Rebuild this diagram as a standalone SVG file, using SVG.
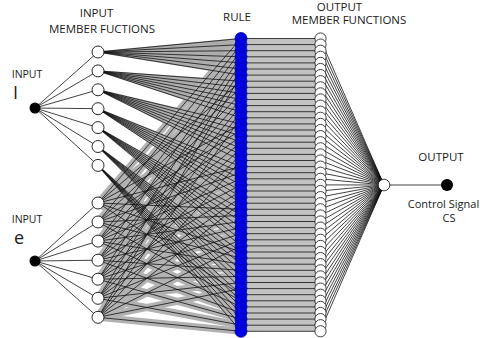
<svg xmlns="http://www.w3.org/2000/svg" width="483" height="338" viewBox="0 0 483 338">
<style>
text{font-family:"Open Sans","Liberation Sans",sans-serif;fill:#1a1a1a;text-anchor:middle}
.lbl{font-size:11.5px}
.sig{font-size:11px}
.small{font-size:10.5px}
.big{font-size:18px;text-anchor:start}
.thin{stroke:#111;stroke-width:0.8;fill:none}
.mf{fill:#fff;stroke:#111;stroke-width:0.9}
.rule{fill:#0000e6;stroke:#00009a;stroke-width:0.8}
.omf{fill:#fff;stroke:#111;stroke-width:0.8}
.inp{fill:#000}
</style>

<g id="connectors">
<g id="I-wedges" fill="#adadad" stroke="#adadad" stroke-width="1.5">
<polygon points="98,52 241,38.5 241,75.1"/>
<polygon points="98,70.9 241,81.2 241,117.8"/>
<polygon points="98,89.8 241,123.9 241,160.5"/>
<polygon points="98,108.7 241,166.6 241,203.2"/>
<polygon points="98,127.6 241,209.3 241,245.9"/>
<polygon points="98,146.5 241,252 241,288.6"/>
<polygon points="98,165.4 241,294.7 241,331.3"/>
</g>
<g id="e-under" fill="none" stroke="#b2b2b2" stroke-width="7" stroke-linecap="round">
<path d="M98 203L241 38.5M98 203L241 81.2M98 203L241 123.9M98 203L241 166.6M98 203L241 209.3M98 203L241 252M98 203L241 294.7"/>
<path d="M98 222L241 44.6M98 222L241 87.3M98 222L241 130M98 222L241 172.7M98 222L241 215.4M98 222L241 258.1M98 222L241 300.8"/>
<path d="M98 241.1L241 50.7M98 241.1L241 93.4M98 241.1L241 136.1M98 241.1L241 178.8M98 241.1L241 221.5M98 241.1L241 264.2M98 241.1L241 306.9"/>
<path d="M98 260.2L241 56.8M98 260.2L241 99.5M98 260.2L241 142.2M98 260.2L241 184.9M98 260.2L241 227.6M98 260.2L241 270.3M98 260.2L241 313"/>
<path d="M98 279.2L241 62.9M98 279.2L241 105.6M98 279.2L241 148.3M98 279.2L241 191M98 279.2L241 233.7M98 279.2L241 276.4M98 279.2L241 319.1"/>
<path d="M98 298.3L241 69M98 298.3L241 111.7M98 298.3L241 154.4M98 298.3L241 197.1M98 298.3L241 239.8M98 298.3L241 282.5M98 298.3L241 325.2"/>
<path d="M98 317.3L241 75.1M98 317.3L241 117.8M98 317.3L241 160.5M98 317.3L241 203.2M98 317.3L241 245.9M98 317.3L241 288.6M98 317.3L241 331.3"/>
</g>
<g id="fan-lines" fill="none" stroke="#111" stroke-width="0.8">
<path d="M98 52L241 38.5M98 52L241 44.6M98 52L241 50.7M98 52L241 56.8M98 52L241 62.9M98 52L241 69M98 52L241 75.1"/>
<path d="M98 70.9L241 81.2M98 70.9L241 87.3M98 70.9L241 93.4M98 70.9L241 99.5M98 70.9L241 105.6M98 70.9L241 111.7M98 70.9L241 117.8"/>
<path d="M98 89.8L241 123.9M98 89.8L241 130M98 89.8L241 136.1M98 89.8L241 142.2M98 89.8L241 148.3M98 89.8L241 154.4M98 89.8L241 160.5"/>
<path d="M98 108.7L241 166.6M98 108.7L241 172.7M98 108.7L241 178.8M98 108.7L241 184.9M98 108.7L241 191M98 108.7L241 197.1M98 108.7L241 203.2"/>
<path d="M98 127.6L241 209.3M98 127.6L241 215.4M98 127.6L241 221.5M98 127.6L241 227.6M98 127.6L241 233.7M98 127.6L241 239.8M98 127.6L241 245.9"/>
<path d="M98 146.5L241 252M98 146.5L241 258.1M98 146.5L241 264.2M98 146.5L241 270.3M98 146.5L241 276.4M98 146.5L241 282.5M98 146.5L241 288.6"/>
<path d="M98 165.4L241 294.7M98 165.4L241 300.8M98 165.4L241 306.9M98 165.4L241 313M98 165.4L241 319.1M98 165.4L241 325.2M98 165.4L241 331.3"/>
<path d="M98 203L241 38.5M98 203L241 81.2M98 203L241 123.9M98 203L241 166.6M98 203L241 209.3M98 203L241 252M98 203L241 294.7"/>
<path d="M98 222L241 44.6M98 222L241 87.3M98 222L241 130M98 222L241 172.7M98 222L241 215.4M98 222L241 258.1M98 222L241 300.8"/>
<path d="M98 241.1L241 50.7M98 241.1L241 93.4M98 241.1L241 136.1M98 241.1L241 178.8M98 241.1L241 221.5M98 241.1L241 264.2M98 241.1L241 306.9"/>
<path d="M98 260.2L241 56.8M98 260.2L241 99.5M98 260.2L241 142.2M98 260.2L241 184.9M98 260.2L241 227.6M98 260.2L241 270.3M98 260.2L241 313"/>
<path d="M98 279.2L241 62.9M98 279.2L241 105.6M98 279.2L241 148.3M98 279.2L241 191M98 279.2L241 233.7M98 279.2L241 276.4M98 279.2L241 319.1"/>
<path d="M98 298.3L241 69M98 298.3L241 111.7M98 298.3L241 154.4M98 298.3L241 197.1M98 298.3L241 239.8M98 298.3L241 282.5M98 298.3L241 325.2"/>
<path d="M98 317.3L241 75.1M98 317.3L241 117.8M98 317.3L241 160.5M98 317.3L241 203.2M98 317.3L241 245.9M98 317.3L241 288.6M98 317.3L241 331.3"/>
</g>
<path class="thin" d="M35 108L98 52M35 108L98 70.9M35 108L98 89.8M35 108L98 108.7M35 108L98 127.6M35 108L98 146.5M35 108L98 165.4"/>
<path class="thin" d="M35 261L98 203M35 261L98 222M35 261L98 241.1M35 261L98 260.2M35 261L98 279.2M35 261L98 298.3M35 261L98 317.3"/>
<rect x="241" y="38.5" width="79" height="292.8" fill="#c2c2c2"/>
<path class="thin" d="M241 38.5H320M241 44.6H320M241 50.7H320M241 56.8H320M241 62.9H320M241 69H320M241 75.1H320M241 81.2H320M241 87.3H320M241 93.4H320M241 99.5H320M241 105.6H320M241 111.7H320M241 117.8H320M241 123.9H320M241 130H320M241 136.1H320M241 142.2H320M241 148.3H320M241 154.4H320M241 160.5H320M241 166.6H320M241 172.7H320M241 178.8H320M241 184.9H320M241 191H320M241 197.1H320M241 203.2H320M241 209.3H320M241 215.4H320M241 221.5H320M241 227.6H320M241 233.7H320M241 239.8H320M241 245.9H320M241 252H320M241 258.1H320M241 264.2H320M241 270.3H320M241 276.4H320M241 282.5H320M241 288.6H320M241 294.7H320M241 300.8H320M241 306.9H320M241 313H320M241 319.1H320M241 325.2H320M241 331.3H320"/>
<path class="thin" d="M320 38.5L384 185M320 44.6L384 185M320 50.7L384 185M320 56.8L384 185M320 62.9L384 185M320 69L384 185M320 75.1L384 185M320 81.2L384 185M320 87.3L384 185M320 93.4L384 185M320 99.5L384 185M320 105.6L384 185M320 111.7L384 185M320 117.8L384 185M320 123.9L384 185M320 130L384 185M320 136.1L384 185M320 142.2L384 185M320 148.3L384 185M320 154.4L384 185M320 160.5L384 185M320 166.6L384 185M320 172.7L384 185M320 178.8L384 185M320 184.9L384 185M320 191L384 185M320 197.1L384 185M320 203.2L384 185M320 209.3L384 185M320 215.4L384 185M320 221.5L384 185M320 227.6L384 185M320 233.7L384 185M320 239.8L384 185M320 245.9L384 185M320 252L384 185M320 258.1L384 185M320 264.2L384 185M320 270.3L384 185M320 276.4L384 185M320 282.5L384 185M320 288.6L384 185M320 294.7L384 185M320 300.8L384 185M320 306.9L384 185M320 313L384 185M320 319.1L384 185M320 325.2L384 185M320 331.3L384 185"/>
<path class="thin" d="M384 185H447"/>
</g>

<g id="input-I"><circle class="inp" cx="35" cy="108" r="5.5"/></g>
<g id="input-e"><circle class="inp" cx="35" cy="261" r="5.5"/></g>

<g id="input-mf-I">
<circle class="mf" cx="98" cy="52" r="6"/>
<circle class="mf" cx="98" cy="70.9" r="6"/>
<circle class="mf" cx="98" cy="89.8" r="6"/>
<circle class="mf" cx="98" cy="108.7" r="6"/>
<circle class="mf" cx="98" cy="127.6" r="6"/>
<circle class="mf" cx="98" cy="146.5" r="6"/>
<circle class="mf" cx="98" cy="165.4" r="6"/>
</g>
<g id="input-mf-e">
<circle class="mf" cx="98" cy="203" r="6"/>
<circle class="mf" cx="98" cy="222" r="6"/>
<circle class="mf" cx="98" cy="241.1" r="6"/>
<circle class="mf" cx="98" cy="260.2" r="6"/>
<circle class="mf" cx="98" cy="279.2" r="6"/>
<circle class="mf" cx="98" cy="298.3" r="6"/>
<circle class="mf" cx="98" cy="317.3" r="6"/>
</g>

<g id="rules">
<circle class="rule" cx="241" cy="38.5" r="6"/><circle class="rule" cx="241" cy="44.6" r="6"/><circle class="rule" cx="241" cy="50.7" r="6"/><circle class="rule" cx="241" cy="56.8" r="6"/><circle class="rule" cx="241" cy="62.9" r="6"/><circle class="rule" cx="241" cy="69" r="6"/><circle class="rule" cx="241" cy="75.1" r="6"/>
<circle class="rule" cx="241" cy="81.2" r="6"/><circle class="rule" cx="241" cy="87.3" r="6"/><circle class="rule" cx="241" cy="93.4" r="6"/><circle class="rule" cx="241" cy="99.5" r="6"/><circle class="rule" cx="241" cy="105.6" r="6"/><circle class="rule" cx="241" cy="111.7" r="6"/><circle class="rule" cx="241" cy="117.8" r="6"/>
<circle class="rule" cx="241" cy="123.9" r="6"/><circle class="rule" cx="241" cy="130" r="6"/><circle class="rule" cx="241" cy="136.1" r="6"/><circle class="rule" cx="241" cy="142.2" r="6"/><circle class="rule" cx="241" cy="148.3" r="6"/><circle class="rule" cx="241" cy="154.4" r="6"/><circle class="rule" cx="241" cy="160.5" r="6"/>
<circle class="rule" cx="241" cy="166.6" r="6"/><circle class="rule" cx="241" cy="172.7" r="6"/><circle class="rule" cx="241" cy="178.8" r="6"/><circle class="rule" cx="241" cy="184.9" r="6"/><circle class="rule" cx="241" cy="191" r="6"/><circle class="rule" cx="241" cy="197.1" r="6"/><circle class="rule" cx="241" cy="203.2" r="6"/>
<circle class="rule" cx="241" cy="209.3" r="6"/><circle class="rule" cx="241" cy="215.4" r="6"/><circle class="rule" cx="241" cy="221.5" r="6"/><circle class="rule" cx="241" cy="227.6" r="6"/><circle class="rule" cx="241" cy="233.7" r="6"/><circle class="rule" cx="241" cy="239.8" r="6"/><circle class="rule" cx="241" cy="245.9" r="6"/>
<circle class="rule" cx="241" cy="252" r="6"/><circle class="rule" cx="241" cy="258.1" r="6"/><circle class="rule" cx="241" cy="264.2" r="6"/><circle class="rule" cx="241" cy="270.3" r="6"/><circle class="rule" cx="241" cy="276.4" r="6"/><circle class="rule" cx="241" cy="282.5" r="6"/><circle class="rule" cx="241" cy="288.6" r="6"/>
<circle class="rule" cx="241" cy="294.7" r="6"/><circle class="rule" cx="241" cy="300.8" r="6"/><circle class="rule" cx="241" cy="306.9" r="6"/><circle class="rule" cx="241" cy="313" r="6"/><circle class="rule" cx="241" cy="319.1" r="6"/><circle class="rule" cx="241" cy="325.2" r="6"/><circle class="rule" cx="241" cy="331.3" r="6"/>
</g>

<g id="output-mf">
<circle class="omf" cx="320.5" cy="38.5" r="5.6"/><circle class="omf" cx="320.5" cy="44.6" r="5.6"/><circle class="omf" cx="320.5" cy="50.7" r="5.6"/><circle class="omf" cx="320.5" cy="56.8" r="5.6"/><circle class="omf" cx="320.5" cy="62.9" r="5.6"/><circle class="omf" cx="320.5" cy="69" r="5.6"/><circle class="omf" cx="320.5" cy="75.1" r="5.6"/>
<circle class="omf" cx="320.5" cy="81.2" r="5.6"/><circle class="omf" cx="320.5" cy="87.3" r="5.6"/><circle class="omf" cx="320.5" cy="93.4" r="5.6"/><circle class="omf" cx="320.5" cy="99.5" r="5.6"/><circle class="omf" cx="320.5" cy="105.6" r="5.6"/><circle class="omf" cx="320.5" cy="111.7" r="5.6"/><circle class="omf" cx="320.5" cy="117.8" r="5.6"/>
<circle class="omf" cx="320.5" cy="123.9" r="5.6"/><circle class="omf" cx="320.5" cy="130" r="5.6"/><circle class="omf" cx="320.5" cy="136.1" r="5.6"/><circle class="omf" cx="320.5" cy="142.2" r="5.6"/><circle class="omf" cx="320.5" cy="148.3" r="5.6"/><circle class="omf" cx="320.5" cy="154.4" r="5.6"/><circle class="omf" cx="320.5" cy="160.5" r="5.6"/>
<circle class="omf" cx="320.5" cy="166.6" r="5.6"/><circle class="omf" cx="320.5" cy="172.7" r="5.6"/><circle class="omf" cx="320.5" cy="178.8" r="5.6"/><circle class="omf" cx="320.5" cy="184.9" r="5.6"/><circle class="omf" cx="320.5" cy="191" r="5.6"/><circle class="omf" cx="320.5" cy="197.1" r="5.6"/><circle class="omf" cx="320.5" cy="203.2" r="5.6"/>
<circle class="omf" cx="320.5" cy="209.3" r="5.6"/><circle class="omf" cx="320.5" cy="215.4" r="5.6"/><circle class="omf" cx="320.5" cy="221.5" r="5.6"/><circle class="omf" cx="320.5" cy="227.6" r="5.6"/><circle class="omf" cx="320.5" cy="233.7" r="5.6"/><circle class="omf" cx="320.5" cy="239.8" r="5.6"/><circle class="omf" cx="320.5" cy="245.9" r="5.6"/>
<circle class="omf" cx="320.5" cy="252" r="5.6"/><circle class="omf" cx="320.5" cy="258.1" r="5.6"/><circle class="omf" cx="320.5" cy="264.2" r="5.6"/><circle class="omf" cx="320.5" cy="270.3" r="5.6"/><circle class="omf" cx="320.5" cy="276.4" r="5.6"/><circle class="omf" cx="320.5" cy="282.5" r="5.6"/><circle class="omf" cx="320.5" cy="288.6" r="5.6"/>
<circle class="omf" cx="320.5" cy="294.7" r="5.6"/><circle class="omf" cx="320.5" cy="300.8" r="5.6"/><circle class="omf" cx="320.5" cy="306.9" r="5.6"/><circle class="omf" cx="320.5" cy="313" r="5.6"/><circle class="omf" cx="320.5" cy="319.1" r="5.6"/><circle class="omf" cx="320.5" cy="325.2" r="5.6"/><circle class="omf" cx="320.5" cy="331.3" r="5.6"/>
</g>

<g id="output-node"><circle class="omf" cx="384" cy="185" r="5.8"/></g>
<g id="output-cs"><circle class="inp" cx="447" cy="185" r="6"/></g>

<g id="labels">
<text class="lbl" x="96.5" y="17">INPUT</text>
<text class="lbl" x="102" y="33">MEMBER FUCTIONS</text>
<text class="lbl" x="237" y="21">RULE</text>
<text class="lbl" x="339.5" y="10.5">OUTPUT</text>
<text class="lbl" x="349" y="24">MEMBER FUNCTIONS</text>
<text class="small" x="27" y="78">INPUT</text>
<text class="big" x="13" y="99">I</text>
<text class="small" x="27" y="223">INPUT</text>
<text class="big" x="14" y="244">e</text>
<text class="lbl" x="441" y="161">OUTPUT</text>
<text class="sig" x="443.5" y="208">Control Signal</text>
<text class="sig" x="449" y="222">CS</text>
</g>
</svg>
